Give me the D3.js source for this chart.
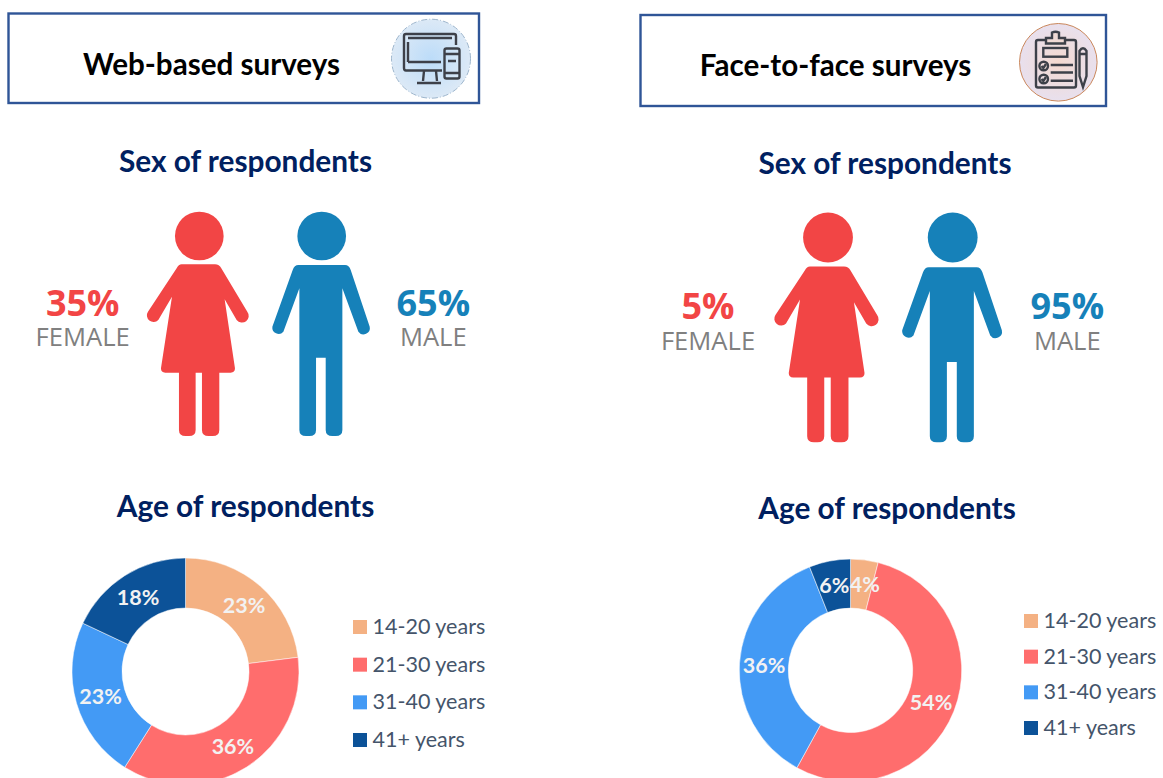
<!doctype html>
<html lang="en">
<head>
  <meta charset="utf-8">
  <title>Survey respondents</title>
  <script src="https://d3js.org/d3.v7.min.js"></script>
  <style>
    html, body { margin: 0; padding: 0; background: #fff; overflow: hidden; }
    svg { display: block; }
    text { font-family: Lato, "Open Sans", sans-serif; }
    .big, .sub { font-family: "Open Sans", sans-serif; }
  </style>
</head>
<body>
  <svg id="plot" width="1163" height="778"></svg>
  <script>
    // values
    const ageGroups = ["14-20 years", "21-30 years", "31-40 years", "41+ years"];
    const webAge = [23, 36, 23, 18];
    const faceAge = [4, 54, 36, 6];
    const sexLabels = ["FEMALE", "MALE"];
    const webSex = [35, 65];
    const faceSex = [5, 95];
    const ageColors = ["#f4b183", "#ff6d6d", "#439af5", "#0c5298"];
    const sexColors = ["#f24545", "#1681b9"];

    // pictograms, drawn around the centre of the head
    const femalePath = "M-53,85 L47,85 Q60,85 66,97 L144,227 A20,20 0 0 1 112,252 L76,190 L107,397 Q107,410 94,410 L60,410 L60,582 Q60,600 40,600 L28,600 Q8,600 8,582 L8,410 L-11,410 L-11,582 Q-11,600 -31,600 L-41,600 Q-61,600 -61,582 L-61,410 L-102,410 Q-115,410 -115,397 L-82,182 L-123,252 A20,20 0 0 1 -154,227 L-68,97 Q-62,85 -53,85 Z";
    const malePath = "M-70,87 L70,87 Q82,87 87,102 L144,272 A19,19 0 0 1 110,287 L62,157 L62,582 Q62,600 42,600 L32,600 Q12,600 12,582 L12,365 L-17,365 L-17,582 Q-17,600 -37,600 L-47,600 Q-67,600 -67,582 L-67,157 L-115,287 A19,19 0 0 1 -148,272 L-87,102 Q-82,87 -70,87 Z";

    const panels = [
      {
        title: "Web-based surveys", box: [8.5, 13.5, 470.5, 89.5], titleX: 211.5, titleY: 74.8,
        sexY: 172, sexX: 245.5, ageY: 517.3, ageX: 245.5,
        sex: webSex, age: webAge,
        heads: [[199.3, 236], [321.7, 236]], figScale: 1 / 3,
        pctX: [82.7, 433.3], pctY: 315.7, subY: 346,
        donut: [185.5, 671.5, 113.5, 63.5],
        legendX: 353, legendY: [627, 740]
      },
      {
        title: "Face-to-face surveys", box: [640.5, 15, 465.5, 91], titleX: 835.5, titleY: 75.8,
        sexY: 174, sexX: 885, ageY: 518.8, ageX: 887,
        sex: faceSex, age: faceAge,
        heads: [[828, 237.5], [952.7, 237.5]], figScale: 1.024 / 3,
        pctX: [708, 1067.3], pctY: 319.3, subY: 350,
        donut: [850.5, 670.3, 111.2, 62.2],
        legendX: 1024, legendY: [621, 728]
      }
    ];

    const svg = d3.select("#plot");

    const defs = svg.append("defs");
    defs.append("filter").attr("id", "soft").append("feGaussianBlur").attr("stdDeviation", 0.5);
    const g1 = defs.append("radialGradient").attr("id", "webGrad");
    g1.append("stop").attr("offset", "0%").attr("stop-color", "#bcdcf9");
    g1.append("stop").attr("offset", "100%").attr("stop-color", "#dce9f6");
    const g2 = defs.append("radialGradient").attr("id", "faceGrad");
    g2.append("stop").attr("offset", "0%").attr("stop-color", "#f4d9cf");
    g2.append("stop").attr("offset", "100%").attr("stop-color", "#e8e0ee");

    panels.forEach(function(p) {
      // header box
      svg.append("rect")
        .attr("x", p.box[0]).attr("y", p.box[1])
        .attr("width", p.box[2]).attr("height", p.box[3])
        .style("fill", "#fff").style("stroke", "#2f5597").style("stroke-width", 2.4);

      svg.append("text")
        .attr("x", p.titleX).attr("y", p.titleY)
        .attr("text-anchor", "middle")
        .style("font-size", "29.6px").style("font-weight", 700).style("fill", "#000")
        .text(p.title);

      svg.append("text")
        .attr("x", p.sexX).attr("y", p.sexY)
        .attr("text-anchor", "middle")
        .style("font-size", "29.8px").style("font-weight", 700).style("fill", "#002060")
        .text("Sex of respondents");

      svg.append("text")
        .attr("x", p.ageX).attr("y", p.ageY)
        .attr("text-anchor", "middle")
        .style("font-size", "29.8px").style("font-weight", 700).style("fill", "#002060")
        .text("Age of respondents");

      // figures
      [femalePath, malePath].forEach(function(d, i) {
        const fig = svg.append("g")
          .attr("transform", "translate(" + p.heads[i][0] + "," + p.heads[i][1] + ") scale(" + p.figScale + ")");
        fig.append("circle").attr("r", 73).style("fill", sexColors[i]);
        fig.append("path").attr("d", d).style("fill", sexColors[i]);
      });

      sexLabels.forEach(function(label, i) {
        svg.append("text").attr("class", "big")
          .attr("x", p.pctX[i]).attr("y", p.pctY)
          .attr("text-anchor", "middle")
          .style("font-size", "36px").style("font-weight", 700).style("fill", sexColors[i])
          .text(p.sex[i] + "%");
        svg.append("text").attr("class", "sub")
          .attr("x", p.pctX[i]).attr("y", p.subY)
          .attr("text-anchor", "middle")
          .style("font-size", "25.6px").style("font-weight", 400).style("fill", "#808080")
          .text(label);
      });

      // donut
      const pie = d3.pie().sort(null).value(function(d) { return d; });
      const arc = d3.arc().innerRadius(p.donut[3]).outerRadius(p.donut[2]);
      const donut = svg.append("g")
        .attr("transform", "translate(" + p.donut[0] + "," + p.donut[1] + ")");

      donut.selectAll("path")
        .data(pie(p.age))
        .enter()
        .append("path")
        .attr("d", arc)
        .style("fill", function(d, i) { return ageColors[i]; })
        .style("stroke", "#fff")
        .style("stroke-width", 0.5);

      donut.selectAll("text")
        .data(pie(p.age))
        .enter()
        .append("text")
        // the 4% label sits a little to the right of its slice
        .attr("x", function(d) { return arc.centroid(d)[0] + (d.data == 4 ? 3.5 : 0); })
        .attr("y", function(d) { return arc.centroid(d)[1] + 0.4; })
        .attr("dy", "0.36em")
        .attr("text-anchor", "middle")
        .style("font-size", "21.5px").style("font-weight", 700).style("fill", "#f2f2f2")
        .text(function(d) { return d.data + "%"; });

      // legend
      const ly = d3.scalePoint().domain(ageGroups).range(p.legendY);
      const legend = svg.append("g");
      legend.selectAll("rect")
        .data(ageGroups)
        .enter()
        .append("rect")
        .attr("x", p.legendX)
        .attr("y", function(d) { return ly(d) - 7; })
        .attr("width", 14).attr("height", 14)
        .style("fill", function(d, i) { return ageColors[i]; });
      legend.selectAll("text")
        .data(ageGroups)
        .enter()
        .append("text")
        .attr("x", p.legendX + 19.5)
        .attr("y", function(d) { return ly(d) + 7; })
        .style("font-size", "21.5px").style("fill", "#44546a")
        .text(function(d) { return d; });
    });

    // web icon
    const web = svg.append("g").attr("filter", "url(#soft)");
    web.append("circle").attr("cx", 431).attr("cy", 58.7).attr("r", 39.5)
      .style("fill", "url(#webGrad)").style("stroke", "#9db5cc").style("stroke-width", 1).style("stroke-dasharray", "6 2 1 2");
    const ink = { fill: "none", stroke: "#3c4148", "stroke-width": 2.4 };
    function inked(sel) {
      Object.keys(ink).forEach(function(k) { sel.style(k, ink[k]); });
      return sel;
    }
    inked(web.append("path").attr("d", "M442,70.5 L406,70.5 Q404,70.5 404,68 L404,36 Q404,34 406,34 L454,34 Q456,34 456,36 L456,45"));
    inked(web.append("path").attr("d", "M408,62 L441,62 M408,42 L408,62 M408,38 L452,38 M424,71 L423,81 M436,71 L437,81 M417,83 L441,83"));
    inked(web.append("rect").attr("x", 444.5).attr("y", 48.5).attr("width", 15).attr("height", 30).attr("rx", 2));
    inked(web.append("path").attr("d", "M445,54 L459,54 M445,73 L459,73 M448,61 L456,61").style("stroke-width", 1.3));

    // clipboard icon
    const face = svg.append("g").attr("filter", "url(#soft)");
    face.append("circle").attr("cx", 1058.3).attr("cy", 62.3).attr("r", 38.8)
      .style("fill", "url(#faceGrad)").style("stroke", "#c9865a").style("stroke-width", 1);
    inked(face.append("rect").attr("x", 1036).attr("y", 40).attr("width", 40).attr("height", 47.5).attr("rx", 2));
    inked(face.append("path").attr("d", "M1046,43.5 L1046,38 L1052,38 L1052,32.5 Q1055.5,31 1059,32.5 L1059,38 L1065,38 L1065,43.5 Z")).style("fill", "#efd9d4");
    inked(face.append("rect").attr("x", 1043.3).attr("y", 48).attr("width", 24).attr("height", 8.7));
    inked(face.append("path").attr("d", "M1050.7,65 L1073,65 M1050.7,72.5 L1073,72.5 M1050.7,80.7 L1073,80.7"));
    inked(face.append("circle").attr("cx", 1043.7).attr("cy", 66).attr("r", 4.3));
    inked(face.append("circle").attr("cx", 1043.7).attr("cy", 79).attr("r", 4.3));
    inked(face.append("path").attr("d", "M1041.5,66 L1043.3,68 L1046,64 M1041.5,79 L1043.3,81 L1046,77").style("stroke-width", 1.3));
    inked(face.append("path").attr("d", "M1079.5,51 Q1083,45.5 1086.5,51 L1086.5,76 L1083,87 L1079.5,76 Z M1079.5,54 L1086.5,54"));
  </script>
</body>
</html>
